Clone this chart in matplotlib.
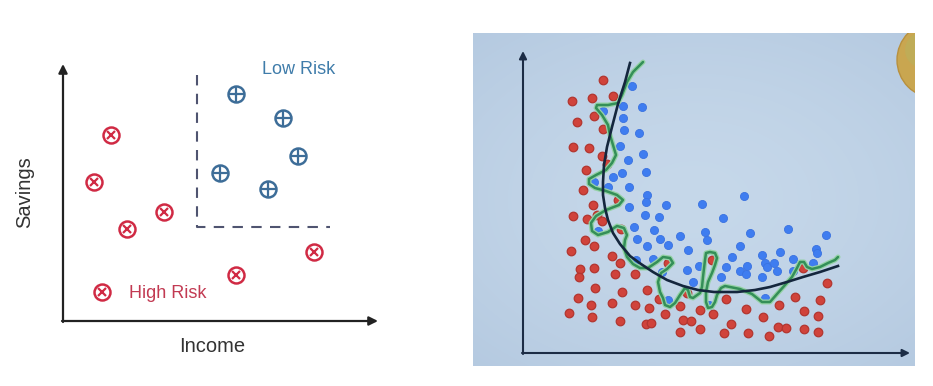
import numpy as np
import matplotlib
matplotlib.use("Agg")
import matplotlib.pyplot as plt
from matplotlib.patches import Circle

plt.rcParams['font.family'] = ['Liberation Sans', 'DejaVu Sans']

# ---------------- Left panel data (Income vs Savings) ----------------
high_risk_income = [48, 31, 64, 101, 39, 173, 251]
high_risk_savings = [186, 139, 92, 109, 29, 46, 69]
low_risk_income = [173, 220, 235, 157, 205]
low_risk_savings = [227, 203, 165, 148, 132]
boundary_x = [134, 134, 267]
boundary_y = [246, 94, 94]

# ---------------- Right panel data ----------------
red_x = [80.3, 48.7, 68.7, 89.7, 53.7, 71, 79.7, 49.7, 65.7, 78.7, 84, 62.7, 60.3, 69.7, 95.3,
         50.3, 64, 73.7, 78.7, 97.7, 62, 71.3, 47.7, 88.7, 96.7, 57, 56.3, 71, 92, 112, 145.3,
         188.7, 280.3, 303.7, 72, 98.7, 123.7, 55.3, 67.7, 89.3, 112, 125.7, 136.3, 163.7, 157,
         177, 190.3, 202.7, 223, 240.3, 256.3, 271.7, 281, 297, 295.3, 46.3, 68.7, 97.3, 123.3,
         128.3, 141.7, 157, 160.3, 167.7, 177, 201, 208, 225.3, 246.3, 254.7, 263, 281, 295.3]
red_y = [273, 252, 254.7, 257, 231.3, 237, 224.3, 206.3, 205, 196.7, 189, 183, 163, 148.3, 153.3,
         137.3, 133.7, 138, 132.3, 123.7, 113.3, 107.3, 102.3, 97.3, 90.3, 83.7, 76.3, 84.7, 79.3,
         79.3, 90, 92.7, 84.7, 70, 64.7, 61.3, 63, 55.3, 47.7, 50.3, 47.7, 44.7, 54.3, 59.7, 47,
         43, 38.7, 53.7, 43.7, 35.7, 48, 56.3, 42.3, 53, 37.3, 40.3, 36.3, 32, 29, 30.3, 38.7,
         21.3, 32.7, 31.7, 24.3, 19.7, 29, 20.3, 16.7, 26, 25.3, 24, 20.7]
blue_x = [108.7, 80.3, 100, 118.7, 99.7, 101, 116.3, 97, 119.7, 104.7, 89.7, 98.7, 123, 71, 85.3,
          106.3, 124, 123, 105.7, 143, 178.7, 221, 122, 136.3, 199.7, 75, 111.3, 130.7, 157, 182,
          184.3, 227, 264.7, 303, 114, 124, 137, 145, 165.3, 217, 238.7, 256.7, 292.7, 294.3,
          113.3, 130.3, 139, 164.3, 176.3, 170.3, 208.7, 203, 198, 223.7, 217, 222.7, 238.7, 242,
          243.7, 251, 254.3, 269.7, 270.3, 290.3, 145.3, 186.3, 242]
blue_y = [267, 241.7, 247, 246.3, 235, 222.7, 219.7, 207, 198.7, 192.7, 176.3, 180.3, 181.3, 170.7,
          165.7, 165.7, 158, 151.3, 146.3, 148, 148.7, 157, 138, 136.3, 135.3, 122, 126, 123, 116.7,
          121.3, 113, 120, 123.7, 118, 114, 107.3, 113.7, 107.7, 103, 107.3, 97.7, 101.3, 104.3,
          99.7, 92.7, 93.7, 81.3, 82.7, 87, 71.3, 96.3, 86, 76.3, 86.7, 81.7, 79, 76, 89.7, 85.7,
          89.7, 82.3, 93.7, 82.3, 90.3, 52.7, 48.3, 55.3]
smooth_x = [107, 102, 95, 89, 84, 81, 80, 80, 82, 85, 90, 97, 107, 118, 130, 144, 160, 175, 191,
            214, 232, 247, 264, 280, 297, 315]
smooth_y = [290, 271, 249, 226, 206, 188, 171, 158, 145, 133, 120, 109, 97, 89, 81, 73, 67, 63, 61,
            61, 63, 66, 71, 76, 81, 87]
overfit_x = [120, 115, 110, 104, 99, 95, 85, 74, 73, 79, 85, 87, 90, 93, 89, 83, 73, 66, 66, 72, 83,
             94, 100, 96, 83, 73, 68, 69, 75, 85, 94, 101, 104, 102, 101, 104, 110, 117, 125, 134,
             140, 147, 150, 144, 138, 135, 137, 140, 142, 147, 152, 157, 162, 165, 167, 170, 177,
             179, 180, 182, 183, 187, 192, 194, 192, 189, 185, 183, 183, 185, 189, 192, 194, 198,
             202, 217, 229, 239, 247, 254, 262, 269, 274, 277, 281, 284, 289, 297, 305, 312, 315]
overfit_y = [291, 286, 281, 271, 258, 250, 248, 248, 245, 238, 228, 218, 208, 198, 190, 183, 178,
             174, 169, 165, 162, 158, 153, 148, 143, 137, 130, 122, 118, 121, 127, 125, 118, 113,
             105, 96, 89, 85, 85, 91, 96, 95, 90, 84, 80, 71, 61, 55, 48, 46, 50, 58, 65, 63, 56,
             55, 60, 66, 76, 93, 100, 101, 100, 95, 88, 80, 71, 61, 51, 45, 46, 51, 58, 65, 67, 64,
             59, 51, 51, 59, 68, 76, 85, 91, 91, 86, 84, 86, 90, 93, 96]

W, H = 933, 386
fig = plt.figure(figsize=(W / 100, H / 100), dpi=100, facecolor='white')

# ---------------- Left panel ----------------
axL = fig.add_axes([0, 0, 460 / W, 1])
axL.set_xlim(-63, 397)
axL.set_ylim(-65, 321)
axL.axis('off')

axis_col = '#222222'
axL.annotate('', xy=(0, 257), xytext=(0, -1),
             arrowprops=dict(arrowstyle='-|>', color=axis_col, lw=1.6, mutation_scale=13,
                             shrinkA=0, shrinkB=0))
axL.annotate('', xy=(315, 0), xytext=(-1, 0),
             arrowprops=dict(arrowstyle='-|>', color=axis_col, lw=1.6, mutation_scale=13,
                             shrinkA=0, shrinkB=0))
axL.plot(boundary_x, boundary_y, color='#4f5470', lw=1.5, dashes=(5, 4))

red_c = '#d02a44'
blue_c = '#3d6d98'
axL.plot(high_risk_income, high_risk_savings, 'o', ms=11.5, mfc='white', mec=red_c, mew=1.8,
         ls='none')
axL.plot(high_risk_income, high_risk_savings, 'x', ms=5.5, mec=red_c, mew=1.6, ls='none')
axL.plot(low_risk_income, low_risk_savings, 'o', ms=11.5, mfc='white', mec=blue_c, mew=1.8,
         ls='none')
axL.plot(low_risk_income, low_risk_savings, '+', ms=11, mec=blue_c, mew=1.6, ls='none')

axL.text(199, 251, 'Low Risk', color='#3f7caa', fontsize=13, ha='left', va='center')
axL.text(66, 28, 'High Risk', color='#c23a52', fontsize=13, ha='left', va='center')
axL.text(-38, 129, 'Savings', color='#333333', fontsize=14.5, rotation=90, ha='center',
         va='center')
axL.text(149, -26, 'Income', color='#333333', fontsize=14.5, ha='center', va='center')

# ---------------- Right panel ----------------
x0, x1, y0, y1 = 473, 915, 33, 366
axR = fig.add_axes([x0 / W, (H - y1) / H, (x1 - x0) / W, (y1 - y0) / H])
xl = (x0 - 523, x1 - 523)
yl = (353 - y1, 353 - y0)
axR.set_xlim(*xl)
axR.set_ylim(*yl)
axR.axis('off')

# background gradient
gy, gx = np.mgrid[-1:1:200j, -1:1:300j]
r = np.clip(np.sqrt((gx * 0.9) ** 2 + (gy * 1.0) ** 2), 0, 1.4)
c_center = np.array([198, 216, 234]) / 255
c_edge = np.array([180, 201, 224]) / 255
t = (r / 1.4)[..., None] ** 1.5
img = c_center * (1 - t) + c_edge * t
axR.imshow(img, extent=(xl[0], xl[1], yl[0], yl[1]), aspect='auto', zorder=0,
           interpolation='bilinear')

# decorative sphere at top-right
axR.add_patch(Circle((412, 293), 38, facecolor='#c9a650', edgecolor='#b8903e', lw=1, zorder=1))
axR.add_patch(Circle((400, 303), 18, facecolor='#b7b25e', edgecolor='none', alpha=0.5, zorder=1))

nav = '#1c2c45'
axR.annotate('', xy=(0, 302), xytext=(0, -1),
             arrowprops=dict(arrowstyle='-|>', color=nav, lw=1.5, mutation_scale=11,
                             shrinkA=0, shrinkB=0))
axR.annotate('', xy=(387, 0), xytext=(-1, 0),
             arrowprops=dict(arrowstyle='-|>', color=nav, lw=1.5, mutation_scale=11,
                             shrinkA=0, shrinkB=0))

axR.scatter(red_x, red_y, s=38, c='#d0433b', edgecolors='#b23630', linewidths=0.9, zorder=3)
axR.scatter(blue_x, blue_y, s=34, c='#3f7df0', edgecolors='#3a72e0', linewidths=0.6, zorder=3)

axR.plot(overfit_x, overfit_y, color='#95d2a6', lw=3.6, solid_joinstyle='round',
         solid_capstyle='round', zorder=4)
axR.plot(overfit_x, overfit_y, color='#348f58', lw=1.8, solid_joinstyle='round',
         solid_capstyle='round', zorder=4)
axR.plot(smooth_x, smooth_y, color='#14263d', lw=1.9, solid_joinstyle='round', zorder=5)

fig.savefig('out.png', dpi=100, facecolor='white')
